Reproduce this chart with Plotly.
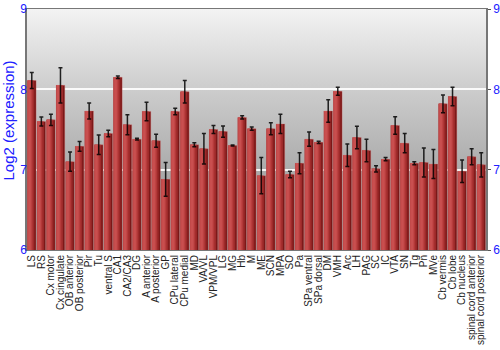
import base64
import plotly.graph_objects as go

regions = ["LS", "RS", "Cx motor", "Cx cingulate", "OB anterior", "OB posterior", "Pir", "Tu",
           "ventral S", "CA1", "CA2/CA3", "DG", "A anterior", "A posterior", "GP", "CPu lateral",
           "CPu medial", "MD", "VA/VL", "VPM/VPL", "LG", "MG", "Hb", "M", "ME", "SCN", "MPA",
           "SO", "Pa", "SPa ventral", "SPa dorsal", "DM", "VMH", "Arc", "LH", "PAG", "SC", "IC",
           "VTA", "SN", "Tg", "Pn", "MVe", "Cb vermis", "Cb lobe", "Cb nucleus",
           "spinal cord anterior", "spinal cord posterior"]
expression = [8.11, 7.60, 7.62, 8.05, 7.10, 7.29, 7.73, 7.31,
              7.45, 8.15, 7.56, 7.38, 7.725, 7.36, 6.88, 7.725,
              7.97, 7.31, 7.26, 7.50, 7.475, 7.30, 7.65, 7.51, 6.925, 7.51, 7.57,
              6.94, 7.08, 7.38, 7.34, 7.73, 7.975, 7.18, 7.40, 7.24, 7.01, 7.13,
              7.55, 7.33, 7.08, 7.09, 7.07, 7.82, 7.91, 6.98,
              7.16, 7.06]
error = [0.10, 0.055, 0.07, 0.22, 0.12, 0.06, 0.10, 0.12,
         0.04, 0.015, 0.125, 0.01, 0.115, 0.08, 0.21, 0.04,
         0.14, 0.025, 0.19, 0.05, 0.07, 0.006, 0.02, 0.02, 0.225, 0.075, 0.12,
         0.04, 0.13, 0.09, 0.015, 0.14, 0.05, 0.14, 0.14, 0.14, 0.04, 0.02,
         0.11, 0.12, 0.02, 0.18, 0.18, 0.11, 0.115, 0.14,
         0.10, 0.15]
y_ticks = [6, 7, 8, 9]
y_title = "Log2 (expression)"

n = len(regions)
fig = go.Figure()

# cylinder-like shading via overlaid strips
strips = [(-0.45, 0.90, "#7a1818"),
          (-0.45, 0.72, "#9e2a2a"),
          (-0.45, 0.55, "#b23838"),
          (-0.42, 0.40, "#c04646"),
          (-0.36, 0.24, "#c94f4f")]
for off, w, col in strips:
    fig.add_trace(go.Bar(x=regions, y=expression, offset=[off] * n, width=[w] * n,
                         marker=dict(color=col, line=dict(width=0)),
                         hoverinfo="skip", showlegend=False))

fig.add_trace(go.Bar(x=regions, y=expression, offset=[-0.45] * n, width=[0.9] * n,
                     marker=dict(color="rgba(0,0,0,0)", line=dict(width=0.6, color="rgba(220,120,120,0.5)")),
                     error_y=dict(type="data", array=error, visible=True,
                                  color="rgba(0,0,0,0.85)", thickness=1.5, width=2),
                     showlegend=False, name="expression"))

# invisible trace to anchor right axis
fig.add_trace(go.Scatter(x=[regions[0]], y=[None], yaxis="y2", showlegend=False,
                         hoverinfo="skip", mode="markers"))

svg = ('<svg xmlns="http://www.w3.org/2000/svg" width="100" height="100" preserveAspectRatio="none">'
       '<defs><linearGradient id="g" x1="0" y1="0" x2="0" y2="1">'
       '<stop offset="0" stop-color="#f3f3f3"/><stop offset="0.33" stop-color="#cdcdcd"/>'
       '<stop offset="0.67" stop-color="#ababab"/><stop offset="1" stop-color="#989898"/>'
       '</linearGradient></defs><rect width="100" height="100" fill="url(#g)"/></svg>')
src = "data:image/svg+xml;base64," + base64.b64encode(svg.encode()).decode()

FONT = "Liberation Sans, Arial, sans-serif"
tick_font = dict(family=FONT, size=12, color="#2020ff")

fig.update_layout(
    width=500, height=350,
    margin=dict(l=27, r=14, t=9, b=100, autoexpand=False),
    paper_bgcolor="white",
    plot_bgcolor="rgba(0,0,0,0)",
    barmode="overlay",
    images=[dict(source=src, xref="paper", yref="paper", x=0, y=1, sizex=1, sizey=1,
                 sizing="stretch", layer="below", xanchor="left", yanchor="top")],
    xaxis=dict(type="category", tickmode="array", tickvals=regions, ticktext=regions,
               tickangle=-90, showgrid=False, ticks="", automargin=False,
               tickfont=dict(family=FONT, size=10, color="#222222"),
               showline=True, linecolor="#777777", linewidth=1, mirror=True,
               range=[-0.5, n - 0.5]),
    yaxis=dict(range=[6, 9], tickvals=y_ticks, showgrid=True, gridcolor="rgba(255,255,255,0.9)",
               gridwidth=1.5, zeroline=False, ticks="", ticklabelstandoff=-4,
               showline=True, linecolor="#777777", linewidth=1.5, automargin=False,
               tickfont=tick_font),
    yaxis2=dict(range=[6, 9], tickvals=y_ticks, overlaying="y", side="right", showgrid=False,
                zeroline=False, ticks="outside", ticklen=3, tickcolor="#555555", automargin=False,
                showline=True, linecolor="#777777", linewidth=1.5, tickfont=tick_font),
    annotations=[dict(text=y_title, xref="paper", yref="paper", x=0, xshift=-19, y=0.5, yshift=9,
                      textangle=-90, showarrow=False, xanchor="center", yanchor="middle",
                      font=dict(family=FONT, size=15, color="#2020ff"))],
    font=dict(family=FONT),
)

fig.write_html("out.html")
